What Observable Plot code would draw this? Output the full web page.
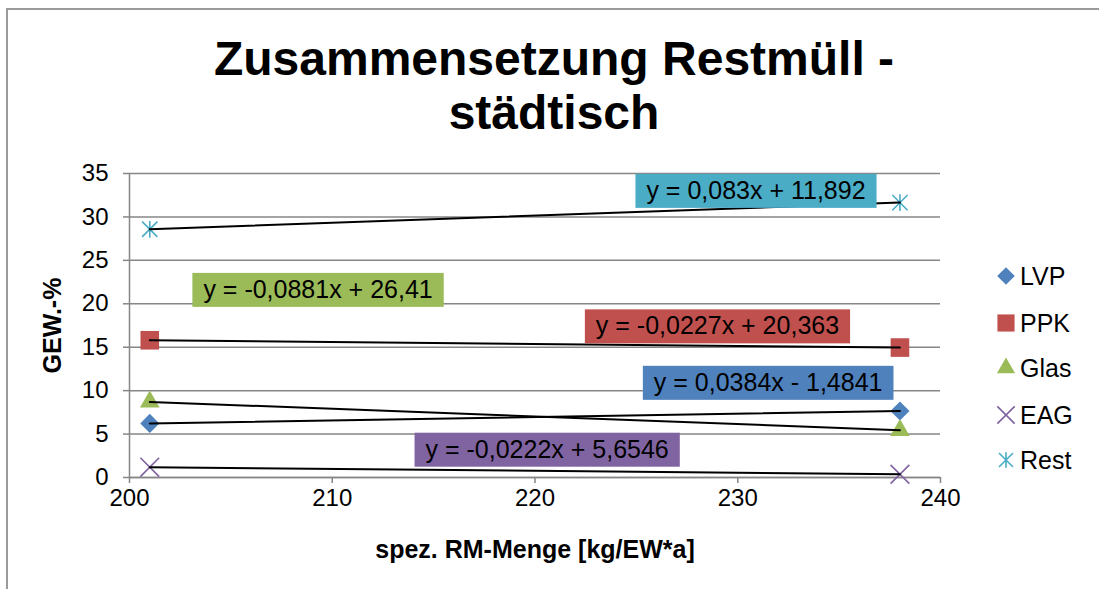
<!DOCTYPE html>
<html>
<head>
<meta charset="utf-8">
<script src="https://cdn.jsdelivr.net/npm/d3@7"></script>
<script src="https://cdn.jsdelivr.net/npm/@observablehq/plot@0.6"></script>
<style>
  body { margin: 0; background: #fff; font-family: "Liberation Sans", Arial, sans-serif; }
  #wrap { position: relative; width: 1099px; height: 589px; overflow: hidden; background: #fff; }
  #border { position: absolute; left: 6px; top: 8px; width: 1300px; height: 800px;
            border-left: 2px solid #9a9a9a; border-top: 2px solid #9a9a9a; z-index: 3; pointer-events: none; }
  #title { position: absolute; left: 0; top: 32px; width: 1108px; text-align: center;
           font-weight: bold; font-size: 48px; line-height: 54px; color: #000; z-index: 2; }
  #chart { position: absolute; left: 0; top: 0; z-index: 1; }
  #legend { position: absolute; left: 995px; top: 0; z-index: 2; }
  .lg { position: absolute; left: 0; display: flex; align-items: center; font-size: 25px; white-space: nowrap; height: 30px; }
  .lg svg { margin-right: 3px; }
</style>
</head>
<body>
<div id="wrap">
  <div id="border"></div>
  <div id="title">Zusammensetzung Restmüll -<br>städtisch</div>
  <div id="chart"></div>
  <div id="legend"></div>
</div>
<script>
// ---- data ----
const xValues = [201, 238];
const seriesNames = ["LVP", "PPK", "Glas", "EAG", "Rest"];
const lvp  = [6.23, 7.65];
const ppk  = [15.80, 14.96];
const glas = [8.70, 5.44];
const eag  = [1.19, 0.37];
const rest = [28.58, 31.65];
const equations = [
  "y = 0,0384x - 1,4841",
  "y = -0,0227x + 20,363",
  "y = -0,0881x + 26,41",
  "y = -0,0222x + 5,6546",
  "y = 0,083x + 11,892"
];
const labelX = [231.5, 229.0, 209.3, 220.6, 230.9];
const labelY = [10.9, 17.4, 21.6, 3.2, 33.0];
const xTicks = [200, 210, 220, 230, 240];
const yTicks = [0, 5, 10, 15, 20, 25, 30, 35];
const xTitle = "spez. RM-Menge [kg/EW*a]";
const yTitle = "GEW.-%";

// ---- styles (kept apart from data) ----
const starSymbol = {
  draw(context, size) {
    const r = Math.sqrt(size) * 0.5;
    const v = r * 1.1;
    context.moveTo(-r, -r); context.lineTo(r, r);
    context.moveTo(-r, r); context.lineTo(r, -r);
    context.moveTo(0, -v); context.lineTo(0, v);
  }
};
const seriesValues = [lvp, ppk, glas, eag, rest];
const styles = {
  LVP:  {color: "#4F81BD", symbol: d3.symbolDiamond2, r: 8.6, filled: true},
  PPK:  {color: "#C0504D", symbol: d3.symbolSquare,   r: 10.5, filled: true},
  Glas: {color: "#9BBB59", symbol: d3.symbolTriangle, r: 7.3, filled: true},
  EAG:  {color: "#8064A2", symbol: d3.symbolTimes,    r: 8.6, filled: false},
  Rest: {color: "#4BACC6", symbol: starSymbol,        r: 8.6, filled: false}
};
const font = '"Liberation Sans", Arial, sans-serif';
const eqFontSize = 25;
const grid = "#868686";

// ---- tables ----
const points = seriesNames.flatMap((s, k) =>
  xValues.map((x, i) => ({series: s, x, y: seriesValues[k][i]})));
const labels = seriesNames.map((s, k) => ({series: s, text: equations[k], x: labelX[k], y: labelY[k]}));

function boxedText(index, scales, values, dimensions, context, next) {
  const g = next(index, scales, values, dimensions, context);
  const ctx = document.createElement("canvas").getContext("2d");
  ctx.font = `${eqFontSize}px ${font}`;
  const ns = "http://www.w3.org/2000/svg";
  const first = g.firstChild;
  for (const i of index) {
    const w = ctx.measureText(labels[i].text).width + 22;
    const h = 34;
    const rect = document.createElementNS(ns, "rect");
    rect.setAttribute("x", values.x[i] - w / 2);
    rect.setAttribute("y", values.y[i] - h / 2);
    rect.setAttribute("width", w);
    rect.setAttribute("height", h);
    rect.setAttribute("fill", styles[labels[i].series].color);
    rect.setAttribute("stroke", "none");
    g.insertBefore(rect, first);
  }
  return g;
}

const dotMarks = seriesNames.map(s => {
  const st = styles[s];
  return Plot.dot(points.filter(d => d.series === s), {
    x: "x", y: "y", symbol: st.symbol, r: st.r,
    fill: st.filled ? st.color : "none",
    stroke: st.filled ? "none" : st.color,
    strokeWidth: st.filled ? 0 : 1.6
  });
});

const chart = Plot.plot({
  width: 1099, height: 589,
  marginTop: 173, marginBottom: 112, marginLeft: 129, marginRight: 159,
  style: {background: "transparent", fontFamily: font, color: "#000", overflow: "visible"},
  x: {domain: [200, 240], ticks: xTicks, label: null},
  y: {domain: [0, 35], ticks: yTicks, label: null},
  marks: [
    Plot.gridY(yTicks, {stroke: grid, strokeOpacity: 1, strokeWidth: 1.5}),
    Plot.ruleX([200], {stroke: grid, strokeWidth: 1.5}),
    Plot.ruleY([0], {stroke: grid, strokeWidth: 1.5}),
    Plot.axisY(yTicks, {tickSize: 6, tickPadding: 15, fontSize: 24, stroke: grid, strokeWidth: 1.5, label: null, tickFormat: d => String(d)}),
    Plot.axisX(xTicks, {tickSize: 6, tickPadding: 5, fontSize: 24, stroke: grid, strokeWidth: 1.5, label: null, tickFormat: d => String(d)}),
    ...dotMarks,
    Plot.line(points, {x: "x", y: "y", z: "series", stroke: "#000", strokeWidth: 2}),
    Plot.text(labels, {x: "x", y: "y", text: "text", fontSize: eqFontSize, fill: "#000",
                       textAnchor: "middle", lineAnchor: "middle", render: boxedText}),
    Plot.text([yTitle], {frameAnchor: "left", dx: -77, rotate: -90, textAnchor: "middle", lineAnchor: "middle",
                         fontSize: 25, fontWeight: "bold", fill: "#000"}),
    Plot.text([xTitle], {frameAnchor: "bottom", dy: 72, textAnchor: "middle", lineAnchor: "middle",
                         fontSize: 25, fontWeight: "bold", fill: "#000"})
  ]
});
document.getElementById("chart").appendChild(chart);

// ---- legend ----
const legendRowsY = [276, 323, 368, 415, 460];
const legend = document.getElementById("legend");
seriesNames.forEach((s, k) => {
  const st = styles[s];
  const row = document.createElement("div");
  row.className = "lg";
  row.style.top = (legendRowsY[k] - 15) + "px";
  const size = Math.PI * st.r * st.r * 0.85;
  const path = d3.symbol(st.symbol, size)();
  row.innerHTML = `<svg width="22" height="22" viewBox="-11 -11 22 22"><path d="${path}" fill="${st.filled ? st.color : "none"}" stroke="${st.filled ? "none" : st.color}" stroke-width="1.6"/></svg><span>${s}</span>`;
  legend.appendChild(row);
});
</script>
</body>
</html>
